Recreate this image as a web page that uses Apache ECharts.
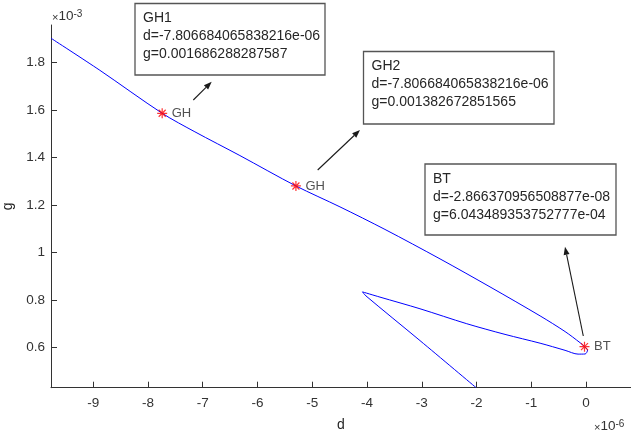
<!DOCTYPE html>
<html>
<head>
<meta charset="utf-8">
<title>g - d</title>
<script src="https://cdn.jsdelivr.net/npm/echarts@6/dist/echarts.min.js"></script>
<style>
    html, body { margin: 0; padding: 0; background: #fff; }
    #chart1 { width: 631px; height: 435px; }
</style>
</head>
<body>
<div id="chart1"></div>
<script>
// curve, d in 1e-6, g in 1e-3
var curveD = [-9.77, -8.878, -7.740, -7.143, -6.321, -5.298, -4.494, -3.672, -2.667, -1.754, -0.840, -0.384, -0.110, -0.029,
    0.027, -0.018, -0.146, -0.384, -0.840, -1.480, -2.179, -3.033, -3.763, -4.083, -4.019, -3.033, -2.009];
var curveG = [1.903, 1.768, 1.587, 1.509, 1.409, 1.281, 1.193, 1.098, 0.974, 0.856, 0.734, 0.668, 0.621, 0.6043,
    0.590, 0.5735, 0.573, 0.589, 0.619, 0.656, 0.701, 0.764, 0.813, 0.835, 0.818, 0.630, 0.432];

// special points
var pointNames = ["GH", "GH", "BT"];
var pointD = [-7.740, -5.298, -0.029];
var pointG = [1.587, 1.281, 0.6043];

// tick labels
var xTicks = [-9, -8, -7, -6, -5, -4, -3, -2, -1, 0];
var yTicks = [0.6, 0.8, 1, 1.2, 1.4, 1.6, 1.8];

// annotation texts
var boxTexts = [
    ["GH1", "d=-7.806684065838216e-06", "g=0.001686288287587"],
    ["GH2", "d=-7.806684065838216e-06", "g=0.001382672851565"],
    ["BT", "d=-2.866370956508877e-08", "g=6.043489353752777e-04"]
];

var FONT = "'Liberation Sans', Arial, Helvetica, sans-serif";
var AXIS_COLOR = "#333333";

var boxes = [
    { x: 135, y: 3.5, w: 190, h: 71.5 },
    { x: 363.5, y: 51.5, w: 190.5, h: 72.5 },
    { x: 425, y: 164, w: 191, h: 71 }
];
var arrows = [
    [193.3, 100, 211.7, 81.7],
    [317.7, 170, 360, 130],
    [583.3, 336, 565, 246.7]
];

function makeArrow(a) {
    var x1 = a[0], y1 = a[1], x2 = a[2], y2 = a[3];
    var ang = Math.atan2(y2 - y1, x2 - x1);
    var len = 8, wid = 3;
    var bx = x2 - len * Math.cos(ang), by = y2 - len * Math.sin(ang);
    var px = -Math.sin(ang) * wid, py = Math.cos(ang) * wid;
    return [{
        type: "line",
        shape: { x1: x1, y1: y1, x2: bx, y2: by },
        style: { stroke: "#1a1a1a", lineWidth: 1.1 }
    }, {
        type: "polygon",
        shape: { points: [[x2, y2], [bx + px, by + py], [bx - px, by - py]] },
        style: { fill: "#1a1a1a" }
    }];
}

function expLabel(x, y, exp) {
    return {
        type: "text",
        x: x,
        y: y,
        style: {
            text: "{a|×}{b|10}{c|" + exp + "}",
            rich: {
                a: { fontSize: 11, fontFamily: FONT, fill: "#333", verticalAlign: "bottom" },
                b: { fontSize: 13.5, fontFamily: FONT, fill: "#333", verticalAlign: "bottom" },
                c: { fontSize: 10, fontFamily: FONT, fill: "#333", verticalAlign: "top" }
            }
        }
    };
}

var LoadChart = function () {
    var myChart = echarts.init(document.getElementById("chart1"));

    var curveData = [];
    for (var i = 0; i < curveD.length; i++) {
        curveData.push([curveD[i], curveG[i]]);
    }
    var pointData = [];
    for (var j = 0; j < pointD.length; j++) {
        pointData.push({ name: pointNames[j], value: [pointD[j], pointG[j]] });
    }

    var graphics = [];
    for (var k = 0; k < boxes.length; k++) {
        var b = boxes[k];
        graphics.push({
            type: "rect",
            shape: { x: b.x, y: b.y, width: b.w, height: b.h },
            style: { fill: "#fff", stroke: "#555", lineWidth: 1.3 },
            z: 10
        });
        graphics.push({
            type: "text",
            x: b.x + 8,
            y: b.y + 6,
            style: {
                text: boxTexts[k].join("\n"),
                font: "14px " + FONT,
                fill: "#262626",
                lineHeight: 18
            },
            z: 11
        });
        graphics = graphics.concat(makeArrow(arrows[k]));
    }
    graphics.push(expLabel(52, 9, "-3"));
    graphics.push(expLabel(594, 419, "-6"));

    var option = {
        animation: false,
        backgroundColor: "#fff",
        grid: { left: 51, top: 25, width: 580, height: 362.7, outerBoundsMode: "none", containLabel: false },
        xAxis: {
            type: "value",
            min: -9.77,
            max: 0.82,
            name: "d",
            nameLocation: "middle",
            nameGap: 30,
            nameTextStyle: { fontSize: 14, fontFamily: FONT, color: "#262626" },
            axisLine: { lineStyle: { color: AXIS_COLOR, width: 1 } },
            axisTick: { inside: true, length: 6, lineStyle: { color: AXIS_COLOR }, customValues: xTicks },
            axisLabel: { fontSize: 13.5, fontFamily: FONT, color: "#333", margin: 9, customValues: xTicks },
            splitLine: { show: false }
        },
        yAxis: {
            type: "value",
            min: 0.4316,
            max: 1.9587,
            name: "g",
            nameLocation: "middle",
            nameRotate: 90,
            nameGap: 25,
            nameTextStyle: { fontSize: 14, fontFamily: FONT, color: "#262626" },
            axisLine: { show: true, onZero: false, lineStyle: { color: AXIS_COLOR, width: 1 } },
            axisTick: { show: true, inside: true, length: 6, lineStyle: { color: AXIS_COLOR }, customValues: yTicks },
            axisLabel: { fontSize: 13.5, fontFamily: FONT, color: "#333", margin: 6, customValues: yTicks },
            splitLine: { show: false }
        },
        series: [{
            type: "line",
            data: curveData,
            showSymbol: false,
            smooth: 0.3,
            lineStyle: { color: "#0000ff", width: 1 },
            z: 2
        }, {
            type: "scatter",
            data: pointData,
            symbol: "path://M5,0 L5,10 M0,5 L10,5 M1.5,1.5 L8.5,8.5 M1.5,8.5 L8.5,1.5",
            symbolSize: 10,
            itemStyle: { color: "none", borderColor: "#ff0000", borderWidth: 1.2 },
            label: {
                show: true,
                position: "right",
                distance: 2,
                formatter: "{b}",
                fontSize: 13,
                fontFamily: FONT,
                color: "#262626"
            },
            z: 3
        }],
        graphic: graphics
    };
    myChart.setOption(option);
};

LoadChart();
</script>
</body>
</html>
